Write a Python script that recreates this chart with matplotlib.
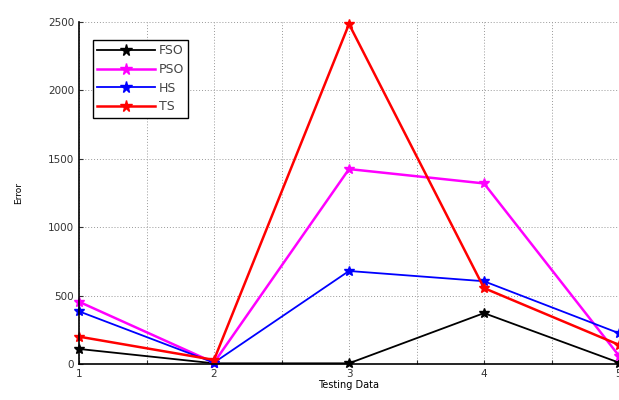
import matplotlib
matplotlib.use("Agg")
import matplotlib.pyplot as plt
import numpy as np

x = [1, 2, 3, 4, 5]
fso = [110, 5, 5, 372, 10]
pso = [455, 10, 1425, 1320, 60]
hs = [385, 10, 680, 605, 225]
ts = [200, 30, 2485, 555, 140]
labels = ["FSO", "PSO", "HS", "TS"]
colors = ["black", "#ff00ff", "#0000ff", "#ff0000"]

fig = plt.figure(figsize=(6.19, 4.0), dpi=100)
ax = fig.add_axes([79/619, 36/400, 540/619, 342/400])

for ys, lab, c, lw in zip([fso, pso, hs, ts], labels, colors, [1.3, 1.8, 1.3, 1.8]):
    ax.plot(x, ys, color=c, marker="*", markersize=7, linewidth=lw, label=lab, clip_on=False)

ax.set_xlim(1, 5)
ax.set_ylim(0, 2500)
ax.set_xticks(np.arange(1, 5.01, 0.5))
ax.set_xticklabels(["1", "", "2", "", "3", "", "4", "", "5"])
ax.set_yticks(np.arange(0, 2501, 500))
ax.tick_params(direction="in", labelsize=7.5, length=3, colors="#333333")
ax.grid(True, linestyle=(0, (1, 2)), color="#999999", linewidth=0.7)
for s in ["top", "right"]:
    ax.spines[s].set_visible(False)
for s in ["left", "bottom"]:
    ax.spines[s].set_linewidth(1.2)

ax.set_xlabel("Testing Data", fontsize=7, labelpad=1)
ax.set_ylabel("Error", fontsize=6.5, labelpad=18)

leg = ax.legend(loc="upper left", bbox_to_anchor=(14/540, 324/342), fontsize=9,
                fancybox=False, framealpha=1, edgecolor="black",
                handlelength=4.6, borderpad=0.35, labelspacing=0.45,
                handletextpad=0.3, markerscale=1.2, borderaxespad=0)
leg.get_frame().set_linewidth(1.0)
for t in leg.get_texts():
    t.set_color("#444444")

fig.savefig("out.png", dpi=100)
